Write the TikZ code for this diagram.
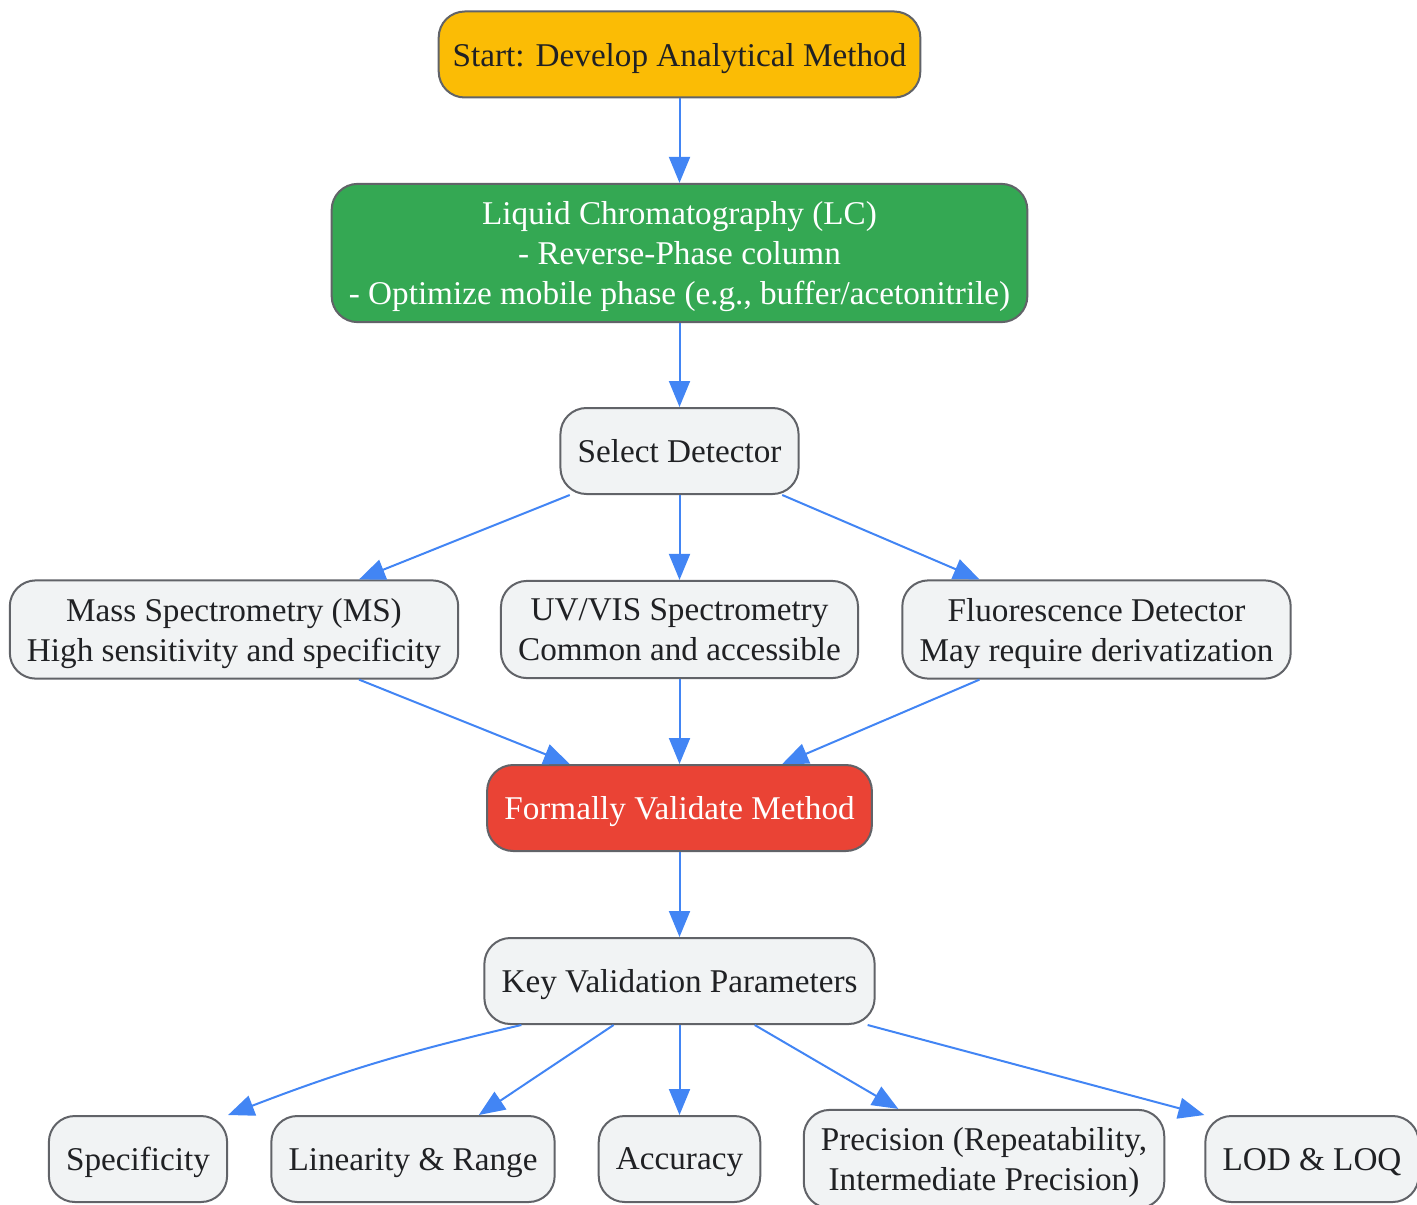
\documentclass[tikz,border=0pt]{standalone}
\usepackage{fontspec}
\setmainfont{Liberation Serif}
\usetikzlibrary{arrows.meta}
\definecolor{myyellow}{HTML}{FBBC05}
\definecolor{mygreen}{HTML}{34A853}
\definecolor{myred}{HTML}{EA4335}
\definecolor{mygrey}{HTML}{F1F3F4}
\definecolor{myborder}{HTML}{616368}
\definecolor{mytext}{HTML}{202124}
\definecolor{myblue}{HTML}{4285F4}
\newcommand{\boxfont}{\fontsize{16.6}{20}\selectfont}
\tikzset{
    common/.style={draw=myborder, line width=1pt, rounded corners=13pt, align=center,
        inner xsep=8.6pt, inner ysep=8.8pt, text depth=0pt, minimum height=43pt,
        font=\boxfont, text=mytext},
    plainbox/.style={common, fill=mygrey},
    startbox/.style={common, fill=myyellow, inner xsep=7pt},
    lcbox/.style={common, fill=mygreen, text=white},
    validbox/.style={common, fill=myred, text=white},
    link/.style={draw=myblue, line width=1pt, -{Triangle[length=13pt, width=10.5pt]}}
}

\begin{document}
\begin{tikzpicture}[x=0.5pt, y=-0.5pt]
    \useasboundingbox (0,0) rectangle (1417,1204);

    \node[startbox] (start) at (679.5,54.5) {Start: Develop Analytical Method};
    \node[lcbox] (lc) at (679.5,253) {Liquid Chromatography (LC)\\- Reverse-Phase column\\- Optimize mobile phase (e.g., buffer/acetonitrile)};
    \node[plainbox] (select) at (679.5,451) {Select Detector};
    \node[plainbox] (ms) at (234,629.5) {Mass Spectrometry (MS)\\High sensitivity and specificity};
    \node[plainbox] (uv) at (679.5,629.5) {UV/VIS Spectrometry\\Common and accessible};
    \node[plainbox] (fluo) at (1096.5,629.5) {Fluorescence Detector\\May require derivatization};
    \node[validbox] (validate) at (679.5,808) {Formally Validate Method};
    \node[plainbox] (key) at (679.5,981) {Key Validation Parameters};
    \node[plainbox] (spec) at (138,1159) {Specificity};
    \node[plainbox] (lin) at (413,1159) {Linearity \& Range};
    \node[plainbox] (acc) at (679.5,1159) {Accuracy};
    \node[plainbox] (prec) at (984,1159) {Precision (Repeatability,\\Intermediate Precision)};
    \node[plainbox] (lod) at (1312,1159) {LOD \& LOQ};

    \draw[link] (start) -- (lc);
    \draw[link] (lc) -- (select);
    \draw[link] (select) -- (ms);
    \draw[link] (select) -- (uv);
    \draw[link] (select) -- (fluo);
    \draw[link] (ms) -- (validate);
    \draw[link] (uv) -- (validate);
    \draw[link] (fluo) -- (validate);
    \draw[link] (validate) -- (key);
    \draw[link] ([xshift=19pt]key.south west) to[bend right=4] (spec.north east);
    \draw[link] (key) -- (lin);
    \draw[link] (key) -- (acc);
    \draw[link] (key) -- (prec);
    \draw[link] ([xshift=-4pt]key.south east) -- (lod.north west);
\end{tikzpicture}
\end{document}
